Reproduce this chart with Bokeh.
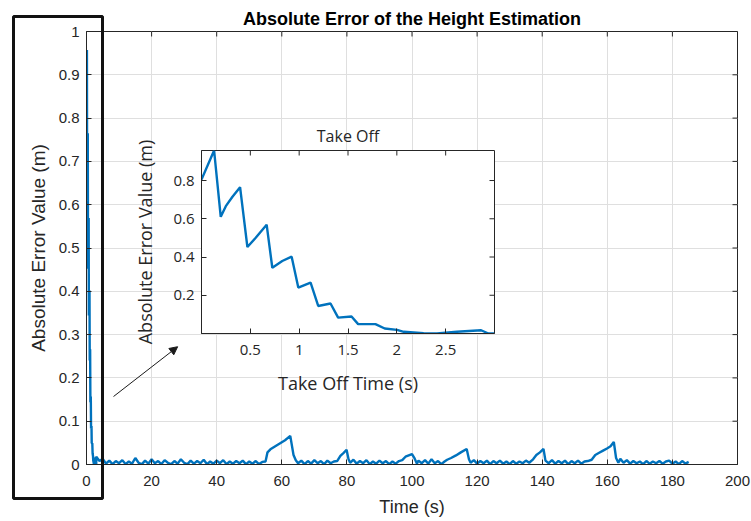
from bokeh.plotting import figure
from bokeh.models import (FixedTicker, Arrow, NormalHead,
                          Range1d, InlineStyleSheet, ColumnDataSource)
from bokeh.layouts import column
from bokeh.embed import file_html
from bokeh.resources import INLINE

# ---------------- data ----------------
# take-off phase (first 3 s)
takeoff_time = [0.000, 0.129, 0.197, 0.249, 0.317, 0.395, 0.470, 0.555, 0.667, 0.725,
                0.827, 0.923, 0.991, 1.117, 1.195, 1.321, 1.399, 1.536, 1.604, 1.781,
                1.876, 2.002, 2.070, 2.274, 2.411, 2.615, 2.863, 2.938, 2.998]
takeoff_error = [0.805, 0.957, 0.610, 0.666, 0.715, 0.765, 0.452, 0.501, 0.569, 0.344,
                 0.379, 0.402, 0.240, 0.266, 0.144, 0.157, 0.083, 0.089, 0.049, 0.049,
                 0.026, 0.019, 0.009, 0.001, 0.000, 0.009, 0.017, 0.000, 0.000]

seg_time_1 = [3, 4, 5, 6, 7, 8, 9, 10, 11, 12, 13, 14, 15, 16, 17, 18, 19, 20, 21, 22,
              23, 24, 25, 26, 27, 28, 29, 30, 31, 32, 33, 34, 35, 36, 37, 38, 39, 40, 41,
              42, 43, 44, 45, 46, 47, 48, 49, 50, 51, 52, 53, 54]
seg_err_1 = [0.018, 0.008, 0.013, 0.002, 0.009, 0.001, 0.008, 0.003, 0.010, 0.001,
             0.007, 0.002, 0.015, 0.004, 0.001, 0.009, 0.002, 0.012, 0.003, 0.008,
             0.001, 0.010, 0.004, 0.001, 0.008, 0.002, 0.012, 0.004, 0.001, 0.009,
             0.002, 0.008, 0.003, 0.011, 0.001, 0.007, 0.002, 0.009, 0.003, 0.010,
             0.001, 0.007, 0.002, 0.008, 0.003, 0.009, 0.001, 0.007, 0.002, 0.008,
             0.001, 0.006]
bump_time_1 = [55.0, 55.6, 56.5, 58.0, 59.5, 61.0, 62.6, 63.6, 64.3]
bump_err_1 = [0.007, 0.028, 0.035, 0.042, 0.049, 0.056, 0.066, 0.022, 0.010]
seg_time_2 = [65, 66, 67, 68, 69, 70, 71, 72, 73, 74, 75, 76]
seg_err_2 = [0.003, 0.009, 0.001, 0.008, 0.002, 0.010, 0.003, 0.008, 0.001, 0.009, 0.003, 0.007]
bump_time_2 = [77.0, 78.0, 79.0, 79.9, 80.5]
bump_err_2 = [0.008, 0.020, 0.027, 0.034, 0.012]
seg_time_3 = [81, 82, 83, 84, 85, 86, 87, 88, 89, 90, 91, 92, 93, 94, 95, 96]
seg_err_3 = [0.004, 0.011, 0.002, 0.008, 0.003, 0.010, 0.001, 0.007, 0.002, 0.009,
             0.003, 0.008, 0.001, 0.007, 0.002, 0.008]
bump_time_3 = [97.0, 98.0, 99.0, 100.0, 100.8, 101.5]
bump_err_3 = [0.010, 0.018, 0.021, 0.024, 0.014, 0.002]
seg_time_4 = [102, 103, 104, 105, 106, 107, 108, 109, 110]
seg_err_4 = [0.009, 0.003, 0.010, 0.002, 0.012, 0.003, 0.008, 0.001, 0.007]
bump_time_4 = [110.8, 112.0, 113.5, 115.0, 116.8, 117.5]
bump_err_4 = [0.011, 0.015, 0.021, 0.028, 0.036, 0.012]
seg_time_5 = [118, 119, 120, 121, 122, 123, 124, 125, 126, 127, 128, 129, 130, 131, 132,
              133, 134, 135, 136]
seg_err_5 = [0.004, 0.010, 0.002, 0.008, 0.003, 0.009, 0.001, 0.008, 0.003, 0.009,
             0.002, 0.007, 0.001, 0.008, 0.002, 0.007, 0.003, 0.009, 0.004]
bump_time_5 = [137.2, 138.2, 139.3, 140.4, 141.0]
bump_err_5 = [0.012, 0.022, 0.028, 0.036, 0.009]
seg_time_6 = [142, 143, 144, 145, 146, 147, 148, 149, 150, 151, 152, 153, 154]
seg_err_6 = [0.003, 0.010, 0.002, 0.008, 0.003, 0.009, 0.001, 0.008, 0.003, 0.009,
             0.002, 0.007, 0.008]
bump_time_6 = [155.2, 156.3, 157.5, 158.7, 159.9, 161.0, 162.0, 162.7, 163.4]
bump_err_6 = [0.011, 0.022, 0.027, 0.032, 0.037, 0.042, 0.052, 0.015, 0.004]
seg_time_7 = [164, 165, 166, 167, 168, 169, 170, 171, 172, 173, 174, 175, 176, 177, 178,
              179, 180, 181, 182, 183, 184, 185]
seg_err_7 = [0.013, 0.004, 0.010, 0.002, 0.008, 0.003, 0.007, 0.001, 0.008, 0.002,
             0.007, 0.003, 0.008, 0.002, 0.007, 0.009, 0.002, 0.007, 0.001, 0.008,
             0.002, 0.006]

flight_time = (seg_time_1 + bump_time_1 + seg_time_2 + bump_time_2 + seg_time_3 +
               bump_time_3 + seg_time_4 + bump_time_4 + seg_time_5 + bump_time_5 +
               seg_time_6 + bump_time_6 + seg_time_7)
flight_error = (seg_err_1 + bump_err_1 + seg_err_2 + bump_err_2 + seg_err_3 +
                bump_err_3 + seg_err_4 + bump_err_4 + seg_err_5 + bump_err_5 +
                seg_err_6 + bump_err_6 + seg_err_7)

main_x_ticks = [0, 20, 40, 60, 80, 100, 120, 140, 160, 180, 200]
main_y_ticks = [0, 0.1, 0.2, 0.3, 0.4, 0.5, 0.6, 0.7, 0.8, 0.9, 1]
inset_x_ticks = [0.5, 1, 1.5, 2, 2.5]
inset_y_ticks = [0.2, 0.4, 0.6, 0.8]

main_title = "Absolute Error of the Height Estimation"
main_xlabel = "Time (s)"
main_ylabel = "Absolute Error Value (m)"
inset_title = "Take Off"
inset_xlabel = "Take Off Time (s)"
inset_ylabel = "Absolute Error Value (m)"

# ---------------- styles ----------------
AX = "#262626"
BLUE = "#0072BD"
GRID = "#dfdfdf"
MFONT = "Liberation Sans"
IFONT = "Open Sans"
TICK_PX = 5


def style_axis(ax, ticks, font, size):
    ax.ticker = FixedTicker(ticks=ticks)
    ax.axis_line_color = AX
    ax.major_tick_line_color = AX
    ax.major_tick_in = TICK_PX
    ax.major_tick_out = 0
    ax.minor_tick_line_color = None
    ax.major_label_text_font = font
    ax.major_label_text_color = AX
    ax.major_label_text_font_size = size


def mirror_ticks(fig, xticks, yticks, xr, yr, frame_w, frame_h):
    # inward ticks on the top and right edges of the box (MATLAB "box on")
    dy = TICK_PX / frame_h * (yr.end - yr.start)
    dx = TICK_PX / frame_w * (xr.end - xr.start)
    fig.segment(x0=xticks, y0=[yr.end] * len(xticks), x1=xticks,
                y1=[yr.end - dy] * len(xticks), line_color=AX, line_width=1)
    fig.segment(x0=[xr.end] * len(yticks), y0=yticks, x1=[xr.end - dx] * len(yticks),
                y1=yticks, line_color=AX, line_width=1)


def place(fig, left, top, z):
    fig.stylesheets = [InlineStyleSheet(
        css=f":host {{ position: absolute !important; left: {left}px !important; "
            f"top: {top}px !important; z-index: {z}; }}")]


# ---------------- main figure ----------------
time_all = takeoff_time + flight_time
error_all = takeoff_error + flight_error
src = ColumnDataSource(data=dict(t=time_all, e=error_all))

MW, MH = 651, 433
p_xr = Range1d(0, 200)
p_yr = Range1d(0, 1)
p = figure(width=751, height=521, min_border_left=86, min_border_right=14,
           min_border_top=31, min_border_bottom=57,
           x_range=p_xr, y_range=p_yr, frame_align=False,
           output_backend="svg", toolbar_location=None, title=main_title)
p.title.text_font = MFONT
p.title.text_font_size = "18px"
p.title.text_font_style = "bold"
p.title.text_color = "#000000"
p.title.align = "center"
p.title.standoff = 5
p.outline_line_color = AX
p.background_fill_color = "white"
p.border_fill_color = "white"

style_axis(p.xaxis[0], main_x_ticks, MFONT, "15px")
style_axis(p.yaxis[0], main_y_ticks, MFONT, "15px")
p.xaxis[0].major_label_standoff = 11
p.yaxis[0].major_label_standoff = 7
p.xaxis[0].axis_label = main_xlabel
p.yaxis[0].axis_label = main_ylabel
for ax in (p.xaxis[0], p.yaxis[0]):
    ax.axis_label_text_font = MFONT
    ax.axis_label_text_font_style = "normal"
    ax.axis_label_text_color = AX
p.xaxis[0].axis_label_text_font_size = "18px"
p.yaxis[0].axis_label_text_font_size = "19px"
p.xaxis[0].axis_label_standoff = 8
p.yaxis[0].axis_label_standoff = 7

p.xgrid.ticker = FixedTicker(ticks=main_x_ticks)
p.ygrid.ticker = FixedTicker(ticks=main_y_ticks)
p.xgrid.grid_line_color = GRID
p.ygrid.grid_line_color = GRID

mirror_ticks(p, main_x_ticks, main_y_ticks, p_xr, p_yr, MW, MH)
p.line("t", "e", source=src, line_color=BLUE, line_width=2.4)

# arrow pointing at the inset
arrow_start = (8.3, 0.157)
arrow_end = (28.0, 0.272)
p.add_layout(Arrow(x_start=arrow_start[0], y_start=arrow_start[1],
                   x_end=arrow_end[0], y_end=arrow_end[1],
                   line_color="#1a1a1a", line_width=1,
                   end=NormalHead(size=8, fill_color="#1a1a1a", line_color="#1a1a1a")))

# ---------------- inset ----------------
isrc = ColumnDataSource(data=dict(t=takeoff_time, e=takeoff_error))
IW, IH = 293, 183
q_xr = Range1d(0, 3.0)
q_yr = Range1d(0, 0.957)
q = figure(width=408, height=288, min_border_left=90, min_border_right=25,
           min_border_top=35, min_border_bottom=70,
           x_range=q_xr, y_range=q_yr, frame_align=False,
           output_backend="svg", toolbar_location=None, title=inset_title)
q.title.text_font = IFONT
q.title.text_font_size = "16px"
q.title.text_font_style = "normal"
q.title.text_color = AX
q.title.align = "center"
q.title.standoff = 8
q.outline_line_color = AX
q.background_fill_color = "white"
q.border_fill_color = None
q.xgrid.visible = False
q.ygrid.visible = False
style_axis(q.xaxis[0], inset_x_ticks, IFONT, "15px")
style_axis(q.yaxis[0], inset_y_ticks, IFONT, "15px")
q.xaxis[0].major_label_standoff = 11
q.yaxis[0].major_label_standoff = 7
q.xaxis[0].axis_label = inset_xlabel
q.yaxis[0].axis_label = inset_ylabel
for ax in (q.xaxis[0], q.yaxis[0]):
    ax.axis_label_text_font = IFONT
    ax.axis_label_text_font_size = "18px"
    ax.axis_label_text_font_style = "normal"
    ax.axis_label_text_color = AX
q.xaxis[0].axis_label_standoff = 13
q.yaxis[0].axis_label_standoff = 13
mirror_ticks(q, inset_x_ticks, inset_y_ticks, q_xr, q_yr, IW, IH)
q.line("t", "e", source=isrc, line_color=BLUE, line_width=2.4)
place(q, 111, 115, 5)

# ---------------- highlight frame around the take-off part ----------------
b = figure(width=93, height=486, min_border=2, x_range=Range1d(0, 1), y_range=Range1d(0, 1),
           x_axis_location=None, y_axis_location=None, frame_align=False,
           output_backend="svg", toolbar_location=None)
b.xgrid.visible = False
b.ygrid.visible = False
b.background_fill_color = None
b.border_fill_color = None
b.outline_line_color = "#111111"
b.outline_line_width = 3
place(b, 11, 14, 6)

layout = column(p, q, b)
layout.stylesheets = [InlineStyleSheet(css=":host { position: relative; }")]

html = file_html(layout, INLINE)
html = html.replace("<body>", "<body style=\"margin:0;overflow:hidden\">", 1)
open("out.html", "w").write(html)
